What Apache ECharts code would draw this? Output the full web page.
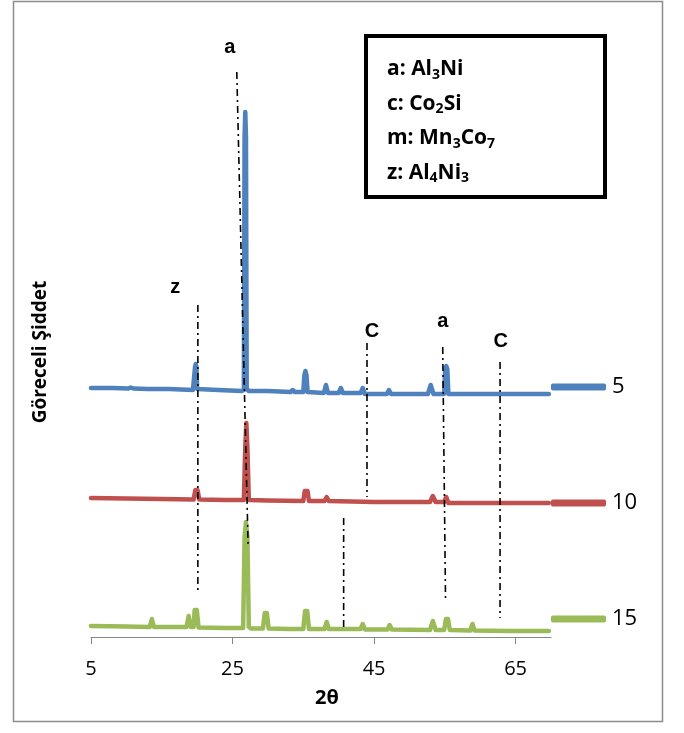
<!DOCTYPE html>
<html>
<head>
<meta charset="utf-8">
<script src="https://cdn.jsdelivr.net/npm/echarts@6/dist/echarts.min.js"></script>
<style>html,body{margin:0;padding:0;background:#fff;}#c{width:684px;height:733px;}</style>
</head>
<body>
<div id="c"></div>
<script>
// ---- data (2θ, relative intensity with vertical offsets) ----
const xTicks = [5, 25, 45, 65];
const seriesNames = ['5', '10', '15'];
const seriesColors = ['#4F81BD', '#C0504D', '#9BBB59'];
const yTitle = 'Göreceli Şiddet';
const xTitle = '2θ';

const data5 = [
  [5,249],[8,249],[10.3,248.5],[10.6,249.5],[11,248.5],[13,248],[16,248],[19.4,247],[19.6,248],[19.7,270],[19.8,273],[19.9,270],[20.0,248],[20.2,247],
  [23,247],[26.3,246],[26.6,247],[26.7,500],[26.8,525],[26.9,500],[27.0,248],[27.3,246],[30,246],[33.2,245],[33.5,247],[33.8,245],
  [35.0,245],[35.15,262],[35.3,266],[35.45,262],[35.6,245],[37.9,244],[38.2,252],[38.5,244],[40.0,244],[40.3,249],[40.6,244],
  [43.1,244],[43.4,249],[43.7,243],[46.8,243],[47.1,247],[47.4,243],[52.6,243],[53.0,252],[53.4,243],[54.9,243],
  [55.05,268],[55.2,271],[55.35,268],[55.5,243],[60,243],[65,243],[69.7,243]
];
const data10 = [
  [5,139],[10,138.5],[15,138],[19.5,137.5],[19.75,147],[19.9,149],[20.05,147],[20.3,137.5],[24,137],[26.6,137],
  [26.8,190],[26.95,214],[27.1,190],[27.3,137],[30,136.5],[35.0,136],[35.2,146],[35.4,148],[35.6,146],[35.8,136],
  [38.0,136],[38.3,140],[38.6,136],[45,135],[52.9,135],[53.3,141],[53.7,135],[54.9,135],[55.2,140],[55.5,134],[62,134],[69.7,134]
];
const data15 = [
  [5,11],[10,10.5],[13.3,10],[13.6,18],[13.9,10],[18.5,10],[18.8,21],[19.1,10],[19.5,10],[19.65,27],[19.8,29],[19.95,27],[20.2,9.5],
  [24,9],[26.5,9],[26.7,100],[26.9,115],[27.1,100],[27.3,10],[27.6,8.5],[29.3,8.5],[29.55,24],[29.7,26],[29.85,24],[30.1,8.5],
  [33,8],[35.0,8],[35.25,26],[35.4,28],[35.55,26],[35.8,8],[38.0,8],[38.3,15],[38.6,8],[43.1,8],[43.4,13],[43.7,7.5],
  [46.9,7.5],[47.2,12],[47.5,7.5],[52.9,7],[53.3,16],[53.7,7],[54.9,7],[55.15,18],[55.3,19],[55.45,18],[55.7,7],
  [58.6,6.5],[58.9,13],[59.2,6.5],[64,6],[69.7,6]
];

// phase reference lines (dash-dot)
const refZ  = [[20.1, 332], [20.1, 47]];
const refA1 = [[25.6, 565], [27.2, 92]];
const refM  = [[40.7, 119], [40.7, 9]];
const refC1 = [[44.0, 294], [44.0, 140]];
const refA2 = [[54.7, 290], [55.1, 35]];
const refC2 = [[62.8, 275], [62.8, 19]];
const refLines = [refZ, refA1, refM, refC1, refA2, refC2];

// peak letters
const peakLabels = [[24.6, 590, 'a'], [16.9, 350, 'z'], [44.7, 306, 'C'], [54.7, 316, 'a'], [62.9, 296, 'C']];

// phase key
const phaseKey = [
  ['a: Al', '3', 'Ni', ''],
  ['c: Co', '2', 'Si', ''],
  ['m: Mn', '3', 'Co', '7'],
  ['z: Al', '4', 'Ni', '3']
];

// ---- chart ----
const chart = echarts.init(document.getElementById('c'), null, {renderer: 'canvas'});
const FONT = 'Open Sans';

const keyText = phaseKey.map(r => {
  let s = '{t|' + r[0] + '}{s|' + r[1] + '}{t|' + r[2] + '}';
  if (r[3]) s += '{s|' + r[3] + '}';
  return s;
}).join('\n');

const mainSeries = [data5, data10, data15].map((d, i) => ({
  name: seriesNames[i],
  type: 'line',
  data: d,
  showSymbol: false,
  symbol: 'none',
  z: 2,
  color: seriesColors[i],
  lineStyle: {width: 4.5, color: seriesColors[i], cap: 'round', join: 'round'}
}));

const refSeries = refLines.map(d => ({
  type: 'line',
  data: d,
  symbol: 'none',
  silent: true,
  z: 3,
  lineStyle: {width: 1.6, color: '#000', type: [7, 4, 2, 4]}
}));

const labelSeries = {
  type: 'scatter',
  data: peakLabels,
  symbolSize: 1,
  silent: true,
  z: 4,
  itemStyle: {color: 'rgba(255,255,255,0)', opacity: 1},
  label: {
    show: true, position: 'inside',
    formatter: p => p.value[2],
    fontFamily: 'Liberation Sans', fontWeight: 'bold', fontSize: 20, color: '#000', opacity: 1
  }
};

const legendTops = [376, 492, 608];
const legends = seriesNames.map((n, i) => ({
  data: [n],
  left: 551,
  top: legendTops[i],
  padding: 0,
  orient: 'vertical',
  icon: 'roundRect',
  itemWidth: 55,
  itemHeight: 7,
  selectedMode: false,
  textStyle: {fontFamily: FONT, fontSize: 22, color: '#000', padding: [0, 0, 0, 1]}
}));

chart.setOption({
  animation: false,
  backgroundColor: '#fff',
  grid: {left: 91, right: 133, top: 37, bottom: 96},
  legend: legends,
  xAxis: {
    type: 'value', min: 5, max: 70,
    name: xTitle, nameLocation: 'middle', nameGap: 51,
    nameTextStyle: {fontFamily: FONT, fontWeight: 'bold', fontSize: 20, color: '#000', padding: [0, 0, 0, 12]},
    axisLine: {show: true, lineStyle: {color: '#868686', width: 1}},
    axisTick: {show: true, customValues: xTicks, length: 7, lineStyle: {color: '#868686'}},
    axisLabel: {customValues: xTicks, fontFamily: FONT, fontSize: 20, color: '#000', margin: 22},
    splitLine: {show: false}
  },
  yAxis: {
    type: 'value', min: 0, max: 600,
    axisLine: {show: false}, axisTick: {show: false}, axisLabel: {show: false}, splitLine: {show: false}
  },
  graphic: [
    {type: 'rect', silent: true, z: 0, shape: {x: 13.5, y: 1.5, width: 649, height: 720},
     style: {fill: 'none', stroke: '#8c8c8c', lineWidth: 1.5}},
    {type: 'text', silent: true, z: 5, x: 41, y: 352, rotation: Math.PI / 2,
     style: {text: yTitle, fontFamily: FONT, fontWeight: 'bold', fontSize: 19, fill: '#000',
             align: 'center', verticalAlign: 'middle'}},
    {type: 'rect', silent: true, z: 10, shape: {x: 366, y: 36, width: 239, height: 161},
     style: {fill: '#fff', stroke: '#000', lineWidth: 4}},
    {type: 'text', silent: true, z: 11, left: 387, top: 57,
     style: {
       text: keyText, fill: '#000',
       rich: {
         t: {fontFamily: FONT, fontWeight: 'bold', fontSize: 21, lineHeight: 34.5, fill: '#000'},
         s: {fontFamily: FONT, fontWeight: 'bold', fontSize: 14, lineHeight: 34.5, padding: [11, 0, 0, 0], fill: '#000'}
       }
     }}
  ],
  series: [...mainSeries, ...refSeries, labelSeries]
});
</script>
</body>
</html>
